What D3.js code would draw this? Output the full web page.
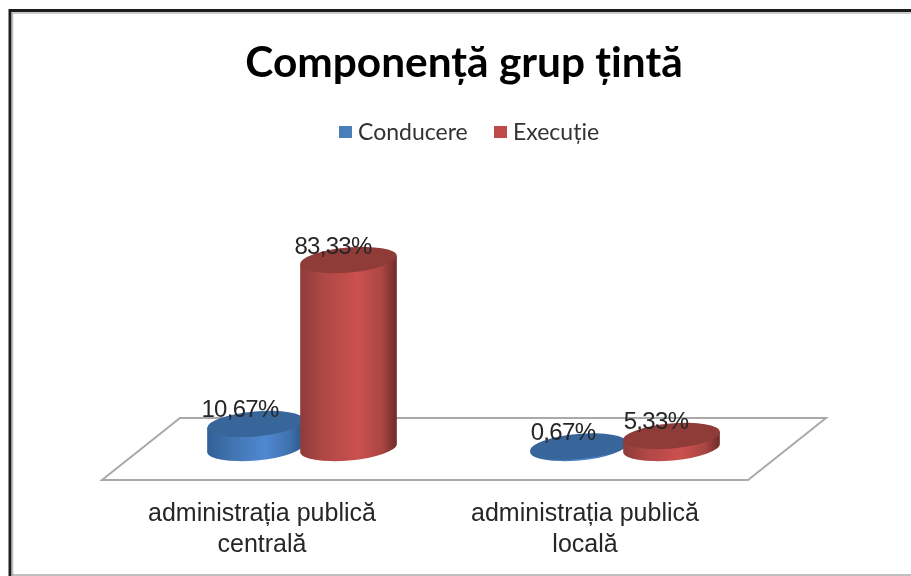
<!DOCTYPE html>
<html>
<head>
<meta charset="utf-8">
<script src="https://cdn.jsdelivr.net/npm/d3@7"></script>
<style>
  html, body { margin: 0; background: #fff; }
  svg { display: block; }
</style>
</head>
<body>
<div id="chart"></div>
<script>
const categories = ["administrația publică centrală", "administrația publică locală"];
const seriesNames = ["Conducere", "Execuție"];
const conducere = [10.67, 0.67];
const executie = [83.33, 5.33];
const valueLabels = [["10,67%", "0,67%"], ["83,33%", "5,33%"]];

const width = 911, height = 576;
const svg = d3.select("#chart").append("svg")
  .attr("width", width)
  .attr("height", height);

const defs = svg.append("defs");

// the reference is a slightly soft screenshot
defs.append("filter").attr("id", "soft")
  .append("feGaussianBlur").attr("stdDeviation", 0.6);

function sideGradient(id, stops) {
  const g = defs.append("linearGradient").attr("id", id);
  stops.forEach(s => g.append("stop").attr("offset", s[0]).attr("stop-color", s[1]));
}
sideGradient("sideBlue", [[0, "#2f6096"], [0.25, "#4073b0"], [0.6, "#5089d2"], [0.85, "#3f72ae"], [1, "#2b5687"]]);
sideGradient("sideRed", [[0, "#8f3c39"], [0.25, "#b04845"], [0.6, "#cb514e"], [0.85, "#a94543"], [1, "#6f2b29"]]);

const topColor = ["#38659a", "#8f3b39"];
const sideFill = ["url(#sideBlue)", "url(#sideRed)"];
const legendColor = ["#4a7ebb", "#be4b48"];

const root = svg.append("g").attr("filter", "url(#soft)");

// frame, open on the right like the cropped original
root.append("path")
  .attr("d", `M10,${height + 4}V10.5H${width + 4}`)
  .attr("fill", "none").attr("stroke", "#1e1e1e").attr("stroke-width", 3);
root.append("path")
  .attr("d", `M12.5,${height + 4}V13H${width + 4}`)
  .attr("fill", "none").attr("stroke", "#bbb").attr("stroke-width", 1.5);
root.append("line")
  .attr("x1", 12).attr("x2", width).attr("y1", 575).attr("y2", 575)
  .attr("stroke", "#aaa").attr("stroke-width", 1.5);

root.append("text")
  .attr("x", 464).attr("y", 77)
  .attr("text-anchor", "middle")
  .style("font", "bold 42.4px Lato")
  .style("fill", "#000")
  .text("Componență grup țintă");

// legend
const legendX = [339, 494];
const legend = root.selectAll(".legend").data(seriesNames).join("g")
  .attr("class", "legend")
  .attr("transform", (d, i) => `translate(${legendX[i]},126)`);
legend.append("rect").attr("width", 13).attr("height", 12)
  .attr("fill", (d, i) => legendColor[i]);
legend.append("text")
  .attr("x", 19).attr("y", 14)
  .style("font", "23px Lato")
  .style("fill", "#333")
  .text(d => d);

// floor
const floorLeft = 102, floorRight = 748, floorY = 480, backY = 418, depth = 78;
root.append("path")
  .attr("d", `M${floorLeft},${floorY}H${floorRight}L${floorRight + depth},${backY}H${floorLeft + depth}Z`)
  .attr("fill", "#fff").attr("stroke", "#a9a9a9").attr("stroke-width", 2);

// scales
const x = d3.scaleBand().domain(categories).range([floorLeft, floorRight]);
const xInner = d3.scaleBand().domain(d3.range(seriesNames.length)).range([-93, 93]);
const y = d3.scaleLinear().domain([0, 100]).range([448, 222.4]);
const barShift = 38.5;

const rx = 48.5, ry = 12.5, tilt = 5;
const cosT = Math.cos(tilt * Math.PI / 180), sinT = Math.sin(tilt * Math.PI / 180);

const bars = [];
[conducere, executie].forEach((vals, s) => {
  vals.forEach((v, c) => bars.push({ s, c, v, label: valueLabels[s][c] }));
});
const cx = d => x(categories[d.c]) + x.bandwidth() / 2 + barShift + xInner(d.s) + xInner.bandwidth() / 2;

const cyl = root.selectAll(".cyl").data(bars).join("g").attr("class", "cyl");
cyl.append("path")
  .attr("fill", d => sideFill[d.s])
  .attr("d", d => {
    const c = cx(d), t = y(d.v), b = y(0);
    const dx = rx * cosT, dy = rx * sinT;
    return `M${c - dx},${t + dy}L${c - dx},${b + dy}` +
      `A${rx},${ry} ${-tilt} 0 0 ${c + dx},${b - dy}L${c + dx},${t - dy}Z`;
  });
cyl.append("ellipse")
  .attr("rx", rx).attr("ry", ry)
  .attr("fill", d => topColor[d.s])
  .attr("transform", d => `translate(${cx(d)},${y(d.v)}) rotate(${-tilt})`);

// value labels sit on top of every cylinder
root.selectAll(".val").data(bars).join("text")
  .attr("class", "val")
  .attr("x", d => cx(d) - 15.5)
  .attr("y", d => y(d.v) - 6.5)
  .attr("text-anchor", "middle")
  .style("font", "24px 'Liberation Sans'")
  .style("letter-spacing", "-0.7px")
  .style("fill", "#262626")
  .text(d => d.label);

// category axis, wrapped to two lines
const axis = root.append("g")
  .attr("transform", "translate(-1.5,496)")
  .call(d3.axisBottom(x).tickSize(0).tickPadding(0));
axis.select(".domain").remove();
axis.selectAll("text")
  .style("font", "25px 'Liberation Sans'")
  .style("fill", "#262626")
  .each(function (d) {
    const words = d.split(" ");
    const t = d3.select(this).text(null).attr("y", 0).attr("dy", null);
    t.append("tspan").attr("x", 0).attr("y", 25).text(words.slice(0, -1).join(" "));
    t.append("tspan").attr("x", 0).attr("y", 56).text(words[words.length - 1]);
  });
</script>
</body>
</html>
